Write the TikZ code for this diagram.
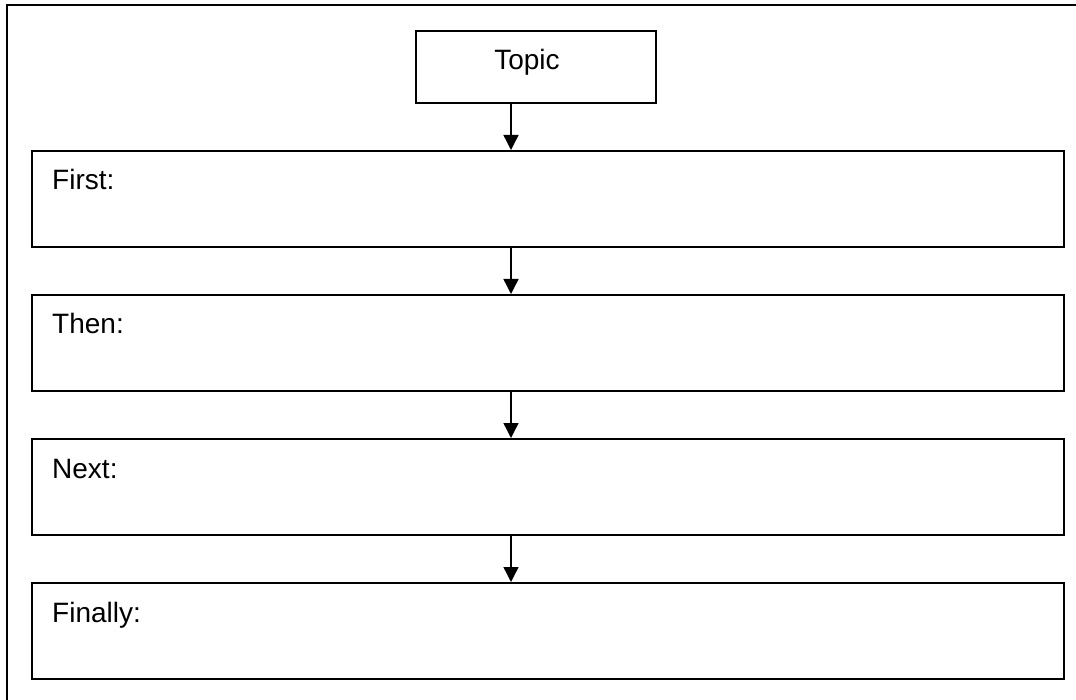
\documentclass[tikz,border=0pt]{standalone}
\usepackage{fontspec}
\setmainfont{Liberation Sans}
\usetikzlibrary{arrows.meta}
\tikzset{
  box/.style={draw, line width=2pt, minimum width=1032pt, minimum height=96pt, inner sep=0pt, anchor=north west},
  topicbox/.style={draw, line width=2pt, minimum width=240pt, minimum height=72pt, inner sep=0pt, anchor=north west},
  lbl/.style={anchor=base west, inner sep=0pt, font=\fontsize{28}{30}\selectfont},
  arr/.style={line width=1.4pt, -{Triangle[length=15pt,width=15pt]}}
}
\begin{document}
\begin{tikzpicture}[x=1pt,y=-1pt]
\clip (0,0) rectangle (1076,700);
\fill[white] (0,0) rectangle (1076,700);
\draw[line width=2pt] (7,5.5) rectangle (1100,720);
\node[topicbox] (topic) at (415,30) {};
\node[anchor=base, inner sep=0pt, font=\fontsize{28}{30}\selectfont] (topictext) at (527,70) {Topic};
\node[box] (b1) at (31,150) {};
\node[box] (b2) at (31,294) {};
\node[box] (b3) at (31,438) {};
\node[box] (b4) at (31,582) {};
\node[lbl] (t1) at (52,190) {First:};
\node[lbl] (t2) at (52,334) {Then:};
\node[lbl] (t3) at (52,478) {Next:};
\node[lbl] (t4) at (52,622) {Finally:};
\coordinate (ax) at (511,0);
\draw[arr] (topic.south -| ax) -- (b1.north -| ax);
\draw[arr] (b1.south -| ax) -- (b2.north -| ax);
\draw[arr] (b2.south -| ax) -- (b3.north -| ax);
\draw[arr] (b3.south -| ax) -- (b4.north -| ax);
\end{tikzpicture}
\end{document}
